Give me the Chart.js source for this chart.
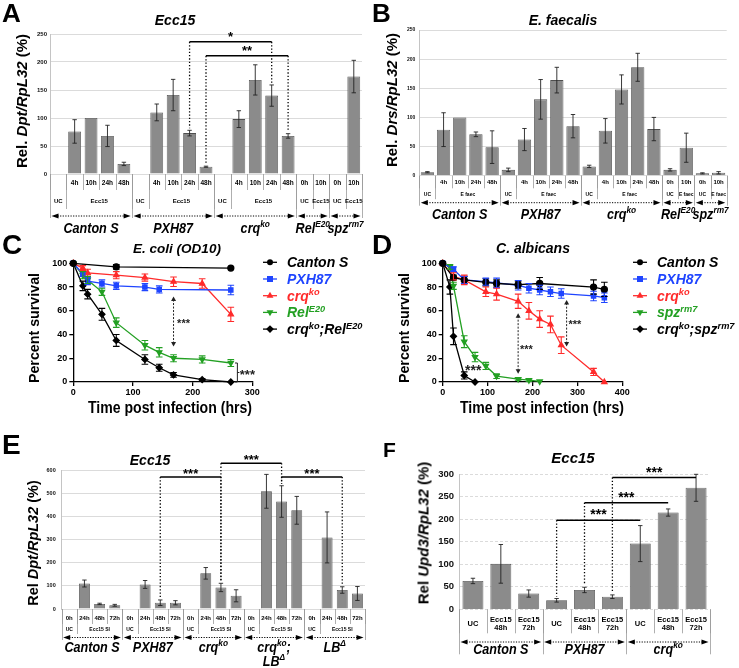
<!DOCTYPE html>
<html>
<head>
<meta charset="utf-8">
<script src="https://cdn.jsdelivr.net/npm/chart.js@4.4.0/dist/chart.umd.min.js"></script>
<style>
  body { margin: 0; background: #fff; }
  #fig { position: relative; width: 739px; height: 668px; overflow: hidden; font-family: "Liberation Sans", Arial, sans-serif; }
  canvas { position: absolute; }
  .t { position: absolute; white-space: nowrap; line-height: 1; font-weight: bold; color: #000; }
</style>
</head>
<body>
<div id="fig">
  <canvas id="cA" width="368" height="240" style="left:0;top:0"></canvas>
  <canvas id="cB" width="369" height="235" style="left:370px;top:0"></canvas>
  <canvas id="cC" width="370" height="200" style="left:0;top:230px"></canvas>
  <canvas id="cD" width="369" height="200" style="left:370px;top:230px"></canvas>
  <canvas id="cE" width="370" height="238" style="left:0;top:430px"></canvas>
  <canvas id="cF" width="369" height="238" style="left:370px;top:430px"></canvas>
</div>
<script>
// ---------- data ----------
// A: Ecc15, Dpt/RpL32
const aGroups = ['Canton S', 'PXH87', 'crq^ko', 'Rel^E20', 'spz^rm7']
const aGroupSize = [5, 5, 5, 2, 2]
const aTimes = ['', '4h', '10h', '24h', '48h', '', '4h', '10h', '24h', '48h', '', '4h', '10h', '24h', '48h', '0h', '10h', '0h', '10h']
const aTreat = ['UC', 'Ecc15', 'Ecc15', 'Ecc15', 'Ecc15', 'UC', 'Ecc15', 'Ecc15', 'Ecc15', 'Ecc15', 'UC', 'Ecc15', 'Ecc15', 'Ecc15', 'Ecc15', 'UC', 'Ecc15', 'UC', 'Ecc15']
const aDpt = [1, 76, 100, 68, 18, 1, 110, 141, 73, 13, 1, 98, 168, 140, 68, 1, 1, 1, 174]
const aDptErr = [0, 21, 0, 19, 3, 0, 15, 28, 5, 1, 0, 15, 27, 19, 4, 0, 0, 0, 29]
const aSig = [[8, 13, 236, '*'], [9, 14, 211, '**']]

// B: E. faecalis, Drs/RpL32
const bGroups = ['Canton S', 'PXH87', 'crq^ko', 'Rel^E20', 'spz^rm7']
const bGroupSize = [5, 5, 5, 2, 2]
const bTimes = ['', '4h', '10h', '24h', '48h', '', '4h', '10h', '24h', '48h', '', '4h', '10h', '24h', '48h', '0h', '10h', '0h', '10h']
const bTreat = ['UC', 'E faec', 'E faec', 'E faec', 'E faec', 'UC', 'E faec', 'E faec', 'E faec', 'E faec', 'UC', 'E faec', 'E faec', 'E faec', 'E faec', 'UC', 'E faec', 'UC', 'E faec']
const bDrs = [6, 79, 100, 71, 49, 10, 62, 131, 164, 85, 16, 77, 148, 186, 80, 10, 48, 4, 5]
const bDrsErr = [1, 29, 0, 4, 28, 3, 19, 34, 22, 20, 2, 21, 25, 24, 20, 2, 25, 1, 2]

// C: E. coli survival (hrs, %)
const cCantonT = [0, 72, 264], cCanton = [100, 97, 96], cCantonErr = [0, 2, 0]
const cPxhT = [0, 16, 24, 48, 72, 120, 144, 264], cPxh = [100, 91, 85, 83, 81, 80, 78, 77.5], cPxhErr = [0, 2, 3, 3, 3, 3, 3, 4]
const cCrqT = [0, 16, 24, 72, 120, 168, 216, 264], cCrq = [100, 96, 92, 90, 88, 84.5, 83, 57], cCrqErr = [0, 2, 3, 3, 3, 4, 4, 6]
const cRelT = [0, 16, 24, 48, 72, 120, 144, 168, 216, 264], cRel = [100, 90, 86, 76, 50, 31, 25, 20, 19, 16], cRelErr = [0, 3, 3, 3, 4, 4, 4, 3, 3, 3]
const cDblT = [0, 16, 24, 48, 72, 120, 144, 168, 216, 264], cDbl = [100, 81, 74, 57, 35, 19, 12, 6, 2, 0], cDblErr = [0, 4, 4, 5, 5, 4, 3, 2, 1, 0]
const cArrows = [[168, 72, 30]]
const cBrackets = [[271, 275, 16, 0]]
const cStars = [[174, 52, '***', 11, 'left'], [279, 9, '***', 13, 'left']]

// D: C. albicans survival
const dCantonT = [0, 24, 48, 96, 120, 168, 216, 336, 360], dCanton = [100, 88, 86, 84, 83, 82, 83, 80, 78], dCantonErr = [0, 2, 3, 3, 3, 3, 5, 6, 6]
const dPxhT = [0, 24, 48, 96, 120, 168, 192, 216, 240, 264, 336, 360], dPxh = [100, 95, 86, 84.5, 83.5, 81.5, 79, 77.5, 76, 74.5, 72.5, 71], dPxhErr = [0, 2, 3, 3, 4, 4, 4, 4, 4, 4, 4, 4]
const dCrqT = [0, 24, 48, 96, 120, 168, 192, 216, 240, 264, 336, 360], dCrq = [100, 89, 86, 76, 74, 68, 60, 53, 48.5, 31, 8.5, 0], dCrqErr = [0, 3, 4, 4, 5, 6, 7, 7, 7, 7, 3, 0]
const dSpzT = [0, 16, 24, 48, 72, 96, 120, 168, 192, 216], dSpz = [100, 97, 81, 34, 21, 13.5, 5, 2.5, 1.5, 0.5], dSpzErr = [0, 2, 3, 5, 4, 3, 2, 1, 1, 0]
const dDblT = [0, 16, 24, 48, 72], dDbl = [100, 80, 38.5, 5.5, 0], dDblErr = [0, 6, 7, 3, 0]
const dArrows = [[168, 58, 7], [276, 69, 30]]
const dStars = [[172, 30, '***', 11, 'left'], [280, 51, '***', 11, 'left'], [68, 13, '***', 14, 'center']]

// E: Ecc15 SI, Dpt/RpL32
const eGroups = ['Canton S', 'PXH87', 'crq^ko', 'crq^ko;\nLB^Δ', 'LB^Δ']
const eGroupSize = [4, 4, 4, 4, 4]
const eTimes = ['0h', '24h', '48h', '72h', '0h', '24h', '48h', '72h', '0h', '24h', '48h', '72h', '0h', '24h', '48h', '72h', '0h', '24h', '48h', '72h']
const eTreat = ['UC', 'Ecc15 SI', 'Ecc15 SI', 'Ecc15 SI', 'UC', 'Ecc15 SI', 'Ecc15 SI', 'Ecc15 SI', 'UC', 'Ecc15 SI', 'Ecc15 SI', 'Ecc15 SI', 'UC', 'Ecc15 SI', 'Ecc15 SI', 'Ecc15 SI', 'UC', 'Ecc15 SI', 'Ecc15 SI', 'Ecc15 SI']
const eDpt = [2, 110, 22, 16, 2, 106, 27, 27, 2, 154, 93, 57, 2, 508, 464, 426, 2, 309, 82, 67]
const eDptErr = [0, 15, 3, 4, 0, 17, 12, 9, 0, 25, 18, 26, 0, 73, 68, 60, 0, 110, 14, 30]
const eSig = [[6, 10, 570, '***'], [10, 14, 629, '***'], [14, 18, 570, '***']]

// F: Ecc15, Upd3/RpL32
const fGroups = ['Canton S', 'PXH87', 'crq^ko']
const fGroupSize = [3, 3, 3]
const fCats = ['UC', 'Ecc15\n48h', 'Ecc15\n72h', 'UC', 'Ecc15\n48h', 'Ecc15\n72h', 'UC', 'Ecc15\n48h', 'Ecc15\n72h']
const fUpd3 = [63, 101, 35, 20, 43, 28, 146, 215, 270]
const fUpd3Err = [6, 43, 8, 4, 6, 4, 40, 8, 30]
const fSig = [[3, 6, 198, '***'], [4, 7, 237, '***'], [5, 8, 293, '***']]

// ---------- helpers ----------
const fam = '"Liberation Sans", Arial, sans-serif'
Chart.defaults.font.family = fam
Chart.defaults.color = '#000'
Chart.defaults.animation = false

const fig = document.getElementById('fig')

function txt(html, x, y, size, o) {
    o = o || {}
    const d = document.createElement('div')
    d.className = 't'
    d.innerHTML = html
    d.style.fontSize = size + 'px'
    d.style.left = x + 'px'
    if (o.rot) {
        d.style.top = y + 'px'
        d.style.transform = 'translate(-50%,-50%) rotate(-90deg) scaleX(' + (o.sx || 1) + ')'
    } else {
        d.style.top = (y - 0.8465 * size) + 'px'
        let tr = o.center ? 'translateX(-50%) ' : ''
        if (o.sx) tr += 'scaleX(' + o.sx + ')'
        d.style.transform = tr
        if (!o.center) d.style.transformOrigin = 'left'
    }
    fig.appendChild(d)
}

// text with ^superscript runs
function rich(ctx, str, x, y, size, o) {
    o = o || {}
    const style = (o.italic ? 'italic ' : '') + 'bold '
    const segs = str.split(/\^([A-Za-z0-9Δ]+)/).map((t, k) => ({ t, sup: k % 2 === 1 }))
    let w = 0
    segs.forEach(s => {
        s.size = s.sup ? size * 0.66 : size
        ctx.font = style + s.size + 'px ' + fam
        s.w = ctx.measureText(s.t).width
        w += s.w
    })
    const sx = o.sx || 1
    const x0 = o.align === 'left' ? x : x - w * sx / 2
    ctx.save()
    ctx.translate(x0, y)
    ctx.scale(sx, 1)
    ctx.fillStyle = o.color || '#000'
    ctx.textAlign = 'left'
    ctx.textBaseline = 'alphabetic'
    let cx = 0
    segs.forEach(s => {
        ctx.font = style + s.size + 'px ' + fam
        ctx.fillText(s.t, cx, s.sup ? -size * 0.4 : 0)
        cx += s.w
    })
    ctx.restore()
}

function marker(ctx, style, rot, x, y, r, color) {
    ctx.save()
    ctx.fillStyle = color
    ctx.translate(x, y)
    ctx.rotate(rot * Math.PI / 180)
    ctx.beginPath()
    if (style === 'circle') ctx.arc(0, 0, r, 0, Math.PI * 2)
    else if (style === 'rect') ctx.rect(-r, -r, 2 * r, 2 * r)
    else if (style === 'rectRot') { ctx.moveTo(0, -r * 1.3); ctx.lineTo(r * 1.3, 0); ctx.lineTo(0, r * 1.3); ctx.lineTo(-r * 1.3, 0) }
    else { ctx.moveTo(0, -r * 1.3); ctx.lineTo(r * 1.15, r * 0.7); ctx.lineTo(-r * 1.15, r * 0.7) }
    ctx.closePath()
    ctx.fill()
    ctx.restore()
}

// error bars from dataset.errs
const errPlugin = {
    id: 'errbars',
    afterDatasetsDraw(chart) {
        const ctx = chart.ctx, ys = chart.scales.y
        chart.data.datasets.forEach((ds, di) => {
            if (!ds.errs) return
            const meta = chart.getDatasetMeta(di)
            ctx.save()
            ctx.strokeStyle = ds.errColor || ds.borderColor
            ctx.lineWidth = ds.errWidth || 1
            meta.data.forEach((el, i) => {
                const e = ds.errs[i]
                if (!e) return
                const v = typeof ds.data[i] === 'object' ? ds.data[i].y : ds.data[i]
                const y1 = ys.getPixelForValue(v + e), y2 = ys.getPixelForValue(v - e), c = ds.cap
                ctx.beginPath()
                ctx.moveTo(el.x, y1); ctx.lineTo(el.x, y2)
                ctx.moveTo(el.x - c, y1); ctx.lineTo(el.x + c, y1)
                ctx.moveTo(el.x - c, y2); ctx.lineTo(el.x + c, y2)
                ctx.stroke()
            })
            ctx.restore()
        })
    }
}

// sample table below the bars
function tablePlugin(t) {
    return {
        id: 'table',
        afterDraw(chart) {
            const ctx = chart.ctx, xs = chart.scales.x, area = chart.chartArea, b = area.bottom
            const n = t.cats.length, w = (area.right - area.left) / n
            const ex = i => area.left + i * w
            const gi = []
            t.sizes.forEach((s, g) => { for (let k = 0; k < s; k++) gi.push(g) })
            const gEdges = [0]
            let s = 0
            t.sizes.forEach(sz => { s += sz; gEdges.push(s) })
            ctx.save()
            ctx.strokeStyle = '#9a9a9a'
            ctx.lineWidth = 0.8
            const vline = (x, len) => {
                ctx.beginPath(); ctx.moveTo(Math.round(x) + 0.5, b); ctx.lineTo(Math.round(x) + 0.5, b + len); ctx.stroke()
            }
            for (let i = 0; i <= n; i++) vline(ex(i), t.r1Line)
            if (t.treat) {
                for (let i = 1; i < n; i++) if (t.treat[i] !== t.treat[i - 1] || gi[i] !== gi[i - 1]) vline(ex(i), t.r2Line)
            }
            gEdges.forEach(i => vline(ex(i), t.gLine))

            ctx.fillStyle = '#000'
            ctx.textAlign = 'center'
            ctx.textBaseline = 'middle'
            ctx.font = 'bold ' + t.f1 + 'px ' + fam
            t.cats.forEach((lab, i) => {
                const lines = lab.split('\n'), cx = xs.getPixelForValue(i)
                lines.forEach((ln, k) => ctx.fillText(ln, cx, b + t.r1Y + (k - (lines.length - 1) / 2) * t.lh))
            })
            if (t.treat) {
                ctx.font = 'bold ' + t.f2 + 'px ' + fam
                let a = 0
                for (let i = 1; i <= n; i++) {
                    if (i === n || t.treat[i] !== t.treat[a] || gi[i] !== gi[a]) {
                        ctx.fillText(t.treat[a], (ex(a) + ex(i)) / 2, b + t.r2Y)
                        a = i
                    }
                }
            }
            for (let g = 0; g < t.groups.length; g++) {
                const x1 = ex(gEdges[g]) + 1.5, x2 = ex(gEdges[g + 1]) - 1.5, y = b + t.arrowY
                ctx.strokeStyle = '#000'
                ctx.lineWidth = 1
                ctx.setLineDash([1.2, 1.4])
                ctx.beginPath(); ctx.moveTo(x1 + 6, y); ctx.lineTo(x2 - 6, y); ctx.stroke()
                ctx.setLineDash([])
                ctx.fillStyle = '#000'
                ctx.beginPath(); ctx.moveTo(x1, y); ctx.lineTo(x1 + 7, y - 2.6); ctx.lineTo(x1 + 7, y + 2.6); ctx.fill()
                ctx.beginPath(); ctx.moveTo(x2, y); ctx.lineTo(x2 - 7, y - 2.6); ctx.lineTo(x2 - 7, y + 2.6); ctx.fill()
                t.groups[g].split('\n').forEach((ln, k) =>
                    rich(ctx, ln, (x1 + x2) / 2, b + t.genoY + k * t.genoLH, t.genoSize, { italic: true, sx: t.genoSx }))
            }
            ctx.restore()
        }
    }
}

// significance brackets
function sigPlugin(list, vals, errs, bothEnds, size, off) {
    return {
        id: 'sig',
        afterDraw(chart) {
            const ctx = chart.ctx, xs = chart.scales.x, ys = chart.scales.y
            ctx.save()
            list.forEach(([i, j, v, lab]) => {
                const x1 = xs.getPixelForValue(i), x2 = xs.getPixelForValue(j), y = ys.getPixelForValue(v)
                ctx.strokeStyle = '#000'
                ctx.setLineDash([1.3, 2])
                ctx.lineWidth = 1.3
                ;(bothEnds ? [i, j] : [i]).forEach(k => {
                    const x = xs.getPixelForValue(k), yt = ys.getPixelForValue(vals[k] + errs[k]) - 2
                    ctx.beginPath(); ctx.moveTo(x, y); ctx.lineTo(x, yt); ctx.stroke()
                })
                ctx.setLineDash([])
                ctx.lineWidth = 1.5
                ctx.beginPath(); ctx.moveTo(x1, y); ctx.lineTo(x2, y); ctx.stroke()
                ctx.fillStyle = '#000'
                ctx.font = 'bold ' + size + 'px ' + fam
                ctx.textAlign = 'center'
                ctx.textBaseline = 'alphabetic'
                ctx.fillText(lab, (x1 + x2) / 2, y - off + 0.575 * size)
            })
            ctx.restore()
        }
    }
}

function legendPlugin(mx, lx, y0, dy, size) {
    return {
        id: 'lg',
        afterDraw(chart) {
            const ctx = chart.ctx
            chart.data.datasets.forEach((ds, k) => {
                const y = y0 + k * dy
                ctx.save()
                ctx.strokeStyle = ds.borderColor
                ctx.lineWidth = 1.3
                ctx.beginPath(); ctx.moveTo(mx - 7, y); ctx.lineTo(mx + 7, y); ctx.stroke()
                ctx.restore()
                marker(ctx, ds.pointStyle, ds.pointRotation, mx, y, 3, ds.borderColor)
                rich(ctx, ds.label, lx, y + size * 0.36, size, { italic: true, align: 'left', color: ds.borderColor })
            })
        }
    }
}

function annPlugin(arrows, brackets, stars) {
    return {
        id: 'ann',
        afterDraw(chart) {
            const ctx = chart.ctx, xs = chart.scales.x, ys = chart.scales.y
            ctx.save()
            ctx.strokeStyle = '#222'
            ctx.fillStyle = '#222'
            arrows.forEach(([t, v1, v2]) => {
                const x = xs.getPixelForValue(t), y1 = ys.getPixelForValue(v1), y2 = ys.getPixelForValue(v2)
                ctx.lineWidth = 1
                ctx.setLineDash([2, 1.5])
                ctx.beginPath(); ctx.moveTo(x, y1 + 3); ctx.lineTo(x, y2 - 3); ctx.stroke()
                ctx.setLineDash([])
                ctx.beginPath(); ctx.moveTo(x, y1); ctx.lineTo(x - 2.5, y1 + 4.5); ctx.lineTo(x + 2.5, y1 + 4.5); ctx.fill()
                ctx.beginPath(); ctx.moveTo(x, y2); ctx.lineTo(x - 2.5, y2 - 4.5); ctx.lineTo(x + 2.5, y2 - 4.5); ctx.fill()
            })
            brackets.forEach(([t1, t2, v1, v2]) => {
                const x1 = xs.getPixelForValue(t1), x2 = xs.getPixelForValue(t2)
                const y1 = ys.getPixelForValue(v1), y2 = ys.getPixelForValue(v2)
                ctx.lineWidth = 1
                ctx.beginPath()
                ctx.moveTo(x1, y1); ctx.lineTo(x2, y1); ctx.lineTo(x2, y2); ctx.lineTo(x1, y2)
                ctx.moveTo(x2, (y1 + y2) / 2); ctx.lineTo(x2 + 2, (y1 + y2) / 2)
                ctx.stroke()
            })
            stars.forEach(([t, v, lab, size, align]) => {
                ctx.font = 'bold ' + size + 'px ' + fam
                ctx.textAlign = align
                ctx.textBaseline = 'alphabetic'
                ctx.fillText(lab, xs.getPixelForValue(t), ys.getPixelForValue(v) + 0.575 * size)
            })
            ctx.restore()
        }
    }
}

function barChart(id, cats, vals, errs, o) {
    return new Chart(document.getElementById(id), {
        type: 'bar',
        data: {
            labels: cats,
            datasets: [{
                data: vals, errs: errs, errColor: '#222', errWidth: 0.9, cap: 2.2,
                backgroundColor: '#8b8b8b', borderColor: '#4f4f4f', borderWidth: 0.8,
                barPercentage: o.barPct, categoryPercentage: 1
            }]
        },
        options: {
            responsive: false,
            animation: false,
            layout: { padding: { left: 0, right: o.padR, top: o.padT, bottom: 0 }, autoPadding: false },
            plugins: { legend: { display: false }, tooltip: { enabled: false } },
            scales: {
                x: {
                    ticks: { display: false }, grid: { display: false }, border: { display: false },
                    afterFit: s => { s.height = o.xH }
                },
                y: {
                    min: 0, max: o.max,
                    ticks: { stepSize: o.step, font: { size: o.tick, weight: 'bold' }, padding: o.tickPad, color: '#111' },
                    grid: { color: '#d2d2d2', lineWidth: 0.8, drawTicks: false },
                    border: { color: '#c4c4c4', dash: o.dash || [] },
                    afterFit: s => { s.width = o.yW }
                }
            }
        },
        plugins: [errPlugin, tablePlugin(o.table), sigPlugin(o.sig || [], vals, errs, o.bothEnds, o.sigSize, o.sigOff)]
    })
}

function series(label, ts, vs, es, color, style, rot) {
    return {
        label, errs: es, cap: 3.3, errWidth: 1.1,
        data: ts.map((t, i) => ({ x: t, y: vs[i] })),
        borderColor: color, backgroundColor: color, pointBackgroundColor: color, pointBorderColor: color,
        pointStyle: style, pointRotation: rot || 0, pointRadius: 3, borderWidth: 1.3, tension: 0, clip: false
    }
}

function survChart(id, datasets, xmax, yW, padR, arrows, brackets, stars) {
    const axisTicks = { font: { size: 9, weight: 'bold' }, color: '#000' }
    return new Chart(document.getElementById(id), {
        type: 'line',
        data: { datasets },
        options: {
            responsive: false,
            animation: false,
            layout: { padding: { left: 0, right: padR, top: 33.3, bottom: 0 }, autoPadding: false },
            plugins: { legend: { display: false }, tooltip: { enabled: false } },
            scales: {
                x: {
                    type: 'linear', min: 0, max: xmax,
                    ticks: Object.assign({ stepSize: 100, padding: 1, maxRotation: 0 }, axisTicks),
                    grid: { drawOnChartArea: false, tickLength: 4, color: '#000', lineWidth: 1.3 },
                    border: { color: '#000', width: 1.3 },
                    afterFit: s => { s.height = 48 }
                },
                y: {
                    min: 0, max: 100,
                    ticks: Object.assign({ stepSize: 20, padding: 2 }, axisTicks),
                    grid: { drawOnChartArea: false, tickLength: 4, color: '#000', lineWidth: 1.3 },
                    border: { color: '#000', width: 1.3 },
                    afterFit: s => { s.width = yW }
                }
            }
        },
        plugins: [errPlugin, legendPlugin(270, 287, 32.3, 16.7, 14), annPlugin(arrows, brackets, stars)]
    })
}

const BLACK = '#000000', BLUE = '#1f45ff', RED = '#ff2b2b', GREEN = '#23a023'

// ---------- charts ----------
barChart('cA', aTimes, aDpt, aDptErr, {
    max: 250, step: 50, tick: 6, tickPad: 3, yW: 50, padR: 6, padT: 34, xH: 66, barPct: 0.78,
    sig: aSig, bothEnds: true, sigSize: 13, sigOff: 8.7,
    table: { cats: aTimes, treat: aTreat, groups: aGroups, sizes: aGroupSize, r1Y: 9.3, r1Line: 16, r2Y: 27.7, r2Line: 35,
        arrowY: 42, gLine: 44, genoY: 59, genoSize: 15, genoSx: 0.84, genoLH: 14, f1: 6.5, f2: 6, lh: 8 }
})

barChart('cB', bTimes, bDrs, bDrsErr, {
    max: 250, step: 50, tick: 5, tickPad: 4, yW: 49.3, padR: 12.3, padT: 30, xH: 59.3, barPct: 0.82,
    table: { cats: bTimes, treat: bTreat, groups: bGroups, sizes: bGroupSize, r1Y: 7, r1Line: 12.6, r2Y: 19.3, r2Line: 23.5,
        arrowY: 27, gLine: 30, genoY: 43, genoSize: 15, genoSx: 0.84, genoLH: 14, f1: 6, f2: 5, lh: 8 }
})

survChart('cC', [
    series('Canton S', cCantonT, cCanton, cCantonErr, BLACK, 'circle'),
    series('PXH87', cPxhT, cPxh, cPxhErr, BLUE, 'rect'),
    series('crq^ko', cCrqT, cCrq, cCrqErr, RED, 'triangle'),
    series('Rel^E20', cRelT, cRel, cRelErr, GREEN, 'triangle', 180),
    series('crq^ko;Rel^E20', cDblT, cDbl, cDblErr, BLACK, 'rectRot')
], 300, 73.3, 117.7, cArrows, cBrackets, cStars)

survChart('cD', [
    series('Canton S', dCantonT, dCanton, dCantonErr, BLACK, 'circle'),
    series('PXH87', dPxhT, dPxh, dPxhErr, BLUE, 'rect'),
    series('crq^ko', dCrqT, dCrq, dCrqErr, RED, 'triangle'),
    series('spz^rm7', dSpzT, dSpz, dSpzErr, GREEN, 'triangle', 180),
    series('crq^ko;spz^rm7', dDblT, dDbl, dDblErr, BLACK, 'rectRot')
], 400, 72.7, 116.7, dArrows, [], dStars)

barChart('cE', eTimes, eDpt, eDptErr, {
    max: 600, step: 100, tick: 5.5, tickPad: 6, yW: 61.7, padR: 5, padT: 40, xH: 59, barPct: 0.72,
    sig: eSig, bothEnds: true, sigSize: 13, sigOff: 6.5,
    table: { cats: eTimes, treat: eTreat, groups: eGroups, sizes: eGroupSize, r1Y: 9.5, r1Line: 15, r2Y: 21, r2Line: 25,
        arrowY: 28.5, gLine: 31, genoY: 43, genoSize: 15, genoSx: 0.84, genoLH: 13.5, f1: 6, f2: 5, lh: 8 }
})

barChart('cF', fCats, fUpd3, fUpd3Err, {
    max: 300, step: 50, tick: 9.5, tickPad: 5, yW: 89, padR: 29, padT: 44.3, xH: 58.7, barPct: 0.75, dash: [3, 2],
    sig: fSig, bothEnds: false, sigSize: 14, sigOff: 9,
    table: { cats: fCats, treat: null, groups: fGroups, sizes: fGroupSize, r1Y: 14.3, r1Line: 24,
        arrowY: 32.7, gLine: 45, genoY: 44.7, genoSize: 15, genoSx: 0.84, genoLH: 14, f1: 7.5, lh: 8.3 }
})

// ---------- static text ----------
txt('A', 2, 22, 26)
txt('B', 372, 22, 26)
txt('C', 2, 255, 28)
txt('D', 372, 255, 28)
txt('E', 2, 455, 28)
txt('F', 383, 457, 21)

txt('<i>Ecc15</i>', 175, 25, 14, { center: true })
txt('<i>E. faecalis</i>', 563, 25, 14, { center: true })
txt('<i>E. coli (OD10)</i>', 177, 253, 13.5, { center: true })
txt('<i>C. albicans</i>', 533, 253, 14, { center: true })
txt('<i>Ecc15</i>', 150, 465, 14, { center: true })
txt('<i>Ecc15</i>', 573, 463, 15, { center: true })

txt('Rel. <i>Dpt/RpL32</i> (%)', 21, 101, 15, { rot: true })
txt('Rel. <i>Drs/RpL32</i> (%)', 391, 100, 15, { rot: true })
txt('Percent survival', 33, 328, 15, { rot: true, sx: 0.95 })
txt('Percent survival', 403, 328, 15, { rot: true, sx: 0.95 })
txt('Rel <i>Dpt/RpL32</i> (%)', 33, 543, 14.5, { rot: true })
txt('Rel <i>Upd3/RpL32</i> (%)', 423, 533, 15, { rot: true })

txt('Time post infection (hrs)', 170, 414, 16, { center: true, sx: 0.88 })
txt('Time post infection (hrs)', 542, 414, 16, { center: true, sx: 0.88 })
</script>
</body>
</html>
